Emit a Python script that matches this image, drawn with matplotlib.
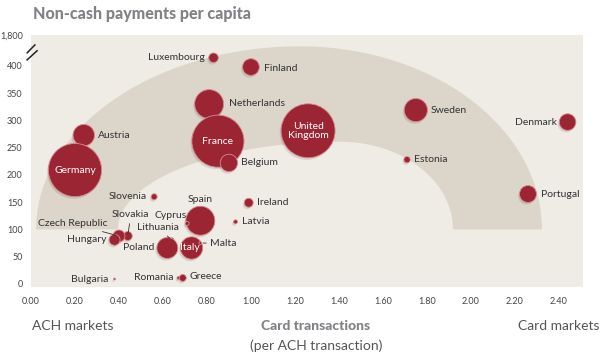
import numpy as np
import matplotlib.pyplot as plt
import matplotlib.patheffects as pe

# data (y above 400 sits on the broken part of the axis)
countries = ['Luxembourg', 'Finland', 'Netherlands', 'France', 'Belgium',
             'United Kingdom', 'Sweden', 'Estonia', 'Denmark', 'Portugal',
             'Austria', 'Germany', 'Slovenia', 'Spain', 'Ireland', 'Latvia',
             'Slovakia', 'Cyprus', 'Czech Republic', 'Lithuania', 'Hungary',
             'Poland', 'Italy', 'Malta', 'Bulgaria', 'Romania', 'Greece']
card_per_ach = [0.83, 1.00, 0.81, 0.85, 0.90, 1.26, 1.75, 1.71, 2.44, 2.26,
                0.24, 0.20, 0.56, 0.77, 0.99, 0.93, 0.44, 0.71, 0.40, 0.64,
                0.38, 0.62, 0.73, 0.77, 0.38, 0.67, 0.69]
payments = [415, 398, 330, 262, 222, 281, 319, 228, 297, 165,
            273, 209, 160, 116, 149, 114, 88, 111, 88, 81,
            81, 66, 66, 75, 9, 11, 11]
volume = [23, 70, 210, 680, 76, 730, 135, 10, 69, 72,
          115, 710, 9, 210, 20, 4, 20, 4, 36, 4,
          30, 110, 125, 2, 1, 2, 12]

yticks = [0, 50, 100, 150, 200, 250, 300, 350, 400, 457]
yticklabels = ['0', '50', '100', '150', '200', '250', '300', '350', '400', '1,800']
xticks = np.arange(0, 2.41, 0.2)

# label placement: (dx, dy) in pixels, alignment, white-inside, leader line
labels = {
    'Luxembourg': (-9, 0, 'right', False, False),
    'Finland': (13, -1, 'left', False, False),
    'Netherlands': (20, 1, 'left', False, False),
    'France': (0, 0, 'center', True, False),
    'Belgium': (12, 0, 'left', False, False),
    'United Kingdom': (0, 0, 'center', True, False),
    'Sweden': (15, 0, 'left', False, False),
    'Estonia': (7, 0, 'left', False, False),
    'Denmark': (-11, 0, 'right', False, False),
    'Portugal': (13, 0, 'left', False, False),
    'Austria': (14, 0, 'left', False, False),
    'Germany': (0, 0, 'center', True, False),
    'Slovenia': (-7, 0, 'right', False, False),
    'Spain': (0, 21, 'center', False, False),
    'Ireland': (8, 0, 'left', False, False),
    'Latvia': (6, 0, 'left', False, False),
    'Slovakia': (3, 21, 'center', False, True),
    'Cyprus': (-17, 8, 'center', False, True),
    'Czech Republic': (-11, 12, 'right', False, True),
    'Lithuania': (-14, 12, 'center', False, True),
    'Hungary': (-8, 0, 'right', False, False),
    'Poland': (-13, 0, 'right', False, False),
    'Italy': (-2, 0, 'center', True, False),
    'Malta': (10, 0, 'left', False, True),
    'Bulgaria': (-6, 0, 'right', False, False),
    'Romania': (-5, 0, 'right', False, False),
    'Greece': (7, 1, 'left', False, True),
}

plt.rcParams['font.family'] = ['Lato', 'DejaVu Sans']

fig = plt.figure(figsize=(6.01, 3.56), dpi=100)
ax = fig.add_axes([0.0516, 0.194, 0.9184, 0.708])
ax.set_facecolor('#efece6')
ax.set_xlim(0, 2.51)
ax.set_ylim(-5.5, 457)


def half_ellipse(cx, cy, a_left, a_right, b, n=200):
    t = np.linspace(0, np.pi, n)
    c = np.cos(t)
    a = np.where(c >= 0, a_right, a_left)
    return cx + a * c, cy + b * np.sin(t)


# decorative arc band (outer edge left to right, inner edge back)
ox, oy = half_ellipse(1.223, 100, 1.20, 1.10, 336)
ix, iy = half_ellipse(1.405, 100, 1.01, 0.514, 161)
ax.fill(np.concatenate([ox, ix[::-1]]), np.concatenate([oy, iy[::-1]]),
        color='#dbd5ca', lw=0, zorder=1)

sizes = np.array(volume) * 2.07
ax.scatter(card_per_ach, payments, s=sizes, color='#9b2532',
           edgecolor='#d98a90', linewidth=0.6, zorder=3,
           path_effects=[pe.SimplePatchShadow(offset=(-1, -1.5),
                                              shadow_rgbFace='#000000',
                                              alpha=0.1),
                         pe.Normal()])

for name, x, y in zip(countries, card_per_ach, payments):
    dx, dy, ha, inside, line = labels[name]
    txt = 'United\nKingdom' if name == 'United Kingdom' else name
    if inside:
        ax.annotate(txt, (x, y), xytext=(dx, dy), textcoords='offset pixels',
                    ha=ha, va='center', fontsize=7.5, color='white',
                    linespacing=1.0, zorder=5)
    else:
        arrow = None
        if line:
            arrow = dict(arrowstyle='-', color='#333333', lw=0.6,
                         shrinkA=1, shrinkB=2)
        ax.annotate(txt, (x, y), xytext=(dx, dy), textcoords='offset pixels',
                    ha=ha, va='center', fontsize=7.5, color='#333333',
                    arrowprops=arrow, zorder=5)

ax.set_xticks(xticks)
ax.set_xticklabels(['{:.2f}'.format(v) for v in xticks])
ax.set_yticks(yticks)
ax.set_yticklabels(yticklabels)
ax.tick_params(length=0, labelsize=6.5, labelcolor='#444444', pad=7)
ax.tick_params(axis='y', pad=6)
for s in ax.spines.values():
    s.set_visible(False)

# axis break marks
for (x0, y0, x1, y1) in [(-0.007, 0.929, 0.007, 0.960),
                         (-0.007, 0.901, 0.011, 0.937)]:
    ax.plot([x0, x1], [y0, y1], transform=ax.transAxes, color='#222222',
            lw=1.1, clip_on=False, zorder=6)

fig.text(33 / 601, 1 - 14 / 356, 'Non-cash payments per capita', fontsize=11.5,
         fontweight='black', color='#808285', va='center', ha='left')
fig.text(32 / 601, 1 - 326 / 356, 'ACH markets', fontsize=10,
         color='#555555', va='center', ha='left')
fig.text(316 / 601, 1 - 326 / 356, 'Card transactions', fontsize=10,
         fontweight='black', color='#808285', va='center', ha='center')
fig.text(316 / 601, 1 - 346 / 356, '(per ACH transaction)', fontsize=10,
         color='#555555', va='center', ha='center')
fig.text(600 / 601, 1 - 326 / 356, 'Card markets', fontsize=10,
         color='#555555', va='center', ha='right')

fig.savefig('out.png', dpi=100)
